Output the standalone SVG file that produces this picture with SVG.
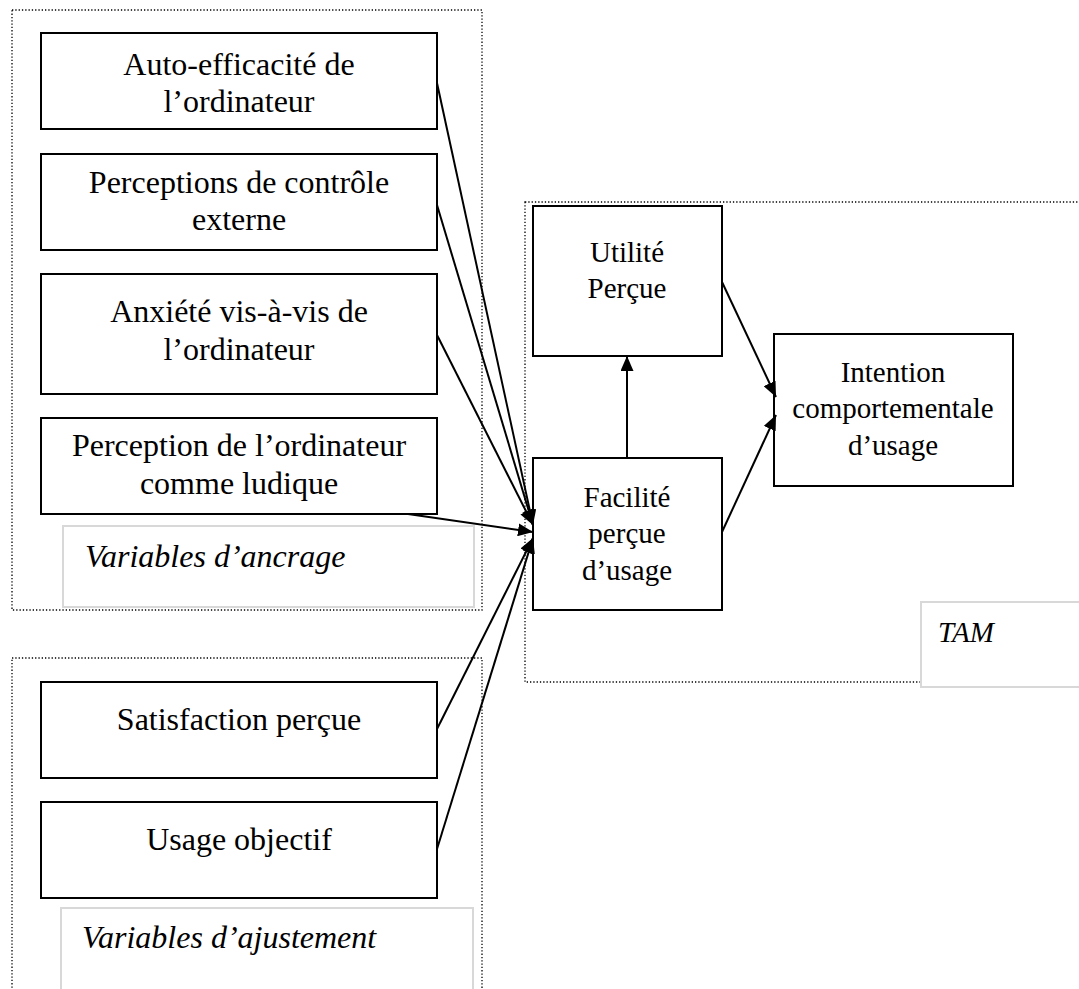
<svg xmlns="http://www.w3.org/2000/svg" width="1079" height="989" viewBox="0 0 1079 989">
<style>
.node{fill:#fff;stroke:#000;stroke-width:2}
.grp{fill:none;stroke:#000;stroke-width:1.3;stroke-dasharray:1.3 2}
.lbl{fill:#fff;stroke:#d8d8d8;stroke-width:2}
.t{font-family:"Liberation Serif","Times New Roman",serif;fill:#000;text-anchor:middle}
.tl{font-size:32px}
.tr{font-size:29px}
.it{font-family:"Liberation Serif","Times New Roman",serif;font-style:italic;fill:#000}
.c{stroke:#000;stroke-width:2;fill:none;marker-end:url(#ah)}
</style>
<defs>
<marker id="ah" markerWidth="15" markerHeight="13" refX="15" refY="6.5" orient="auto" markerUnits="userSpaceOnUse">
<path d="M0,0 L15,6.5 L0,13 Z" fill="#000"/>
</marker>
</defs>
<rect width="1079" height="989" fill="#fff"/>
<g id="group-ancrage">
<rect class="grp" x="12" y="10" width="470" height="600"/>
<rect class="lbl" x="63" y="526" width="411" height="81"/>
<text class="it" x="85" y="567" font-size="32">Variables d’ancrage</text>
</g>
<g id="group-ajustement">
<rect class="grp" x="12" y="658" width="470" height="340"/>
<rect class="lbl" x="61" y="908" width="412" height="85"/>
<text class="it" x="82" y="948" font-size="32">Variables d’ajustement</text>
</g>
<g id="group-tam">
<rect class="grp" x="525" y="202" width="570" height="480"/>
<rect class="lbl" x="921" y="602" width="170" height="85"/>
<text class="it" x="938" y="642" font-size="29">TAM</text>
</g>
<g id="n1"><rect class="node" x="41" y="33" width="396" height="96"/>
<text class="t tl" x="239" y="75">Auto-efficacité de</text><text class="t tl" x="239" y="112">l’ordinateur</text></g>
<g id="n2"><rect class="node" x="41" y="154" width="396" height="96"/>
<text class="t tl" x="239" y="193">Perceptions de contrôle</text><text class="t tl" x="239" y="230">externe</text></g>
<g id="n3"><rect class="node" x="41" y="274" width="396" height="120"/>
<text class="t tl" x="239" y="322">Anxiété vis-à-vis de</text><text class="t tl" x="239" y="360">l’ordinateur</text></g>
<g id="n4"><rect class="node" x="41" y="418" width="396" height="96"/>
<text class="t tl" x="239" y="456">Perception de l’ordinateur</text><text class="t tl" x="239" y="494">comme ludique</text></g>
<g id="n5"><rect class="node" x="41" y="682" width="396" height="96"/>
<text class="t tl" x="239" y="730">Satisfaction perçue</text></g>
<g id="n6"><rect class="node" x="41" y="802" width="396" height="96"/>
<text class="t tl" x="239" y="850">Usage objectif</text></g>
<g id="utilite"><rect class="node" x="533" y="206" width="189" height="150"/>
<text class="t tr" x="627" y="262">Utilité</text><text class="t tr" x="627" y="298">Perçue</text></g>
<g id="facilite"><rect class="node" x="533" y="458" width="189" height="152"/>
<text class="t tr" x="627" y="507">Facilité</text><text class="t tr" x="627" y="543">perçue</text><text class="t tr" x="627" y="580">d’usage</text></g>
<g id="intention"><rect class="node" x="774" y="334" width="239" height="152"/>
<text class="t tr" x="893" y="382">Intention</text><text class="t tr" x="893" y="418">comportementale</text><text class="t tr" x="893" y="455">d’usage</text></g>
<g id="connectors">
<line class="c" x1="437" y1="83" x2="533" y2="525"/>
<line class="c" x1="437" y1="205" x2="533" y2="525"/>
<line class="c" x1="437" y1="335" x2="533" y2="525"/>
<line class="c" x1="408" y1="514" x2="533" y2="532"/>
<line class="c" x1="437" y1="729" x2="533" y2="538"/>
<line class="c" x1="437" y1="849" x2="533" y2="538"/>
<line class="c" x1="627" y1="458" x2="627" y2="356"/>
<line class="c" x1="722" y1="282" x2="776" y2="397"/>
<line class="c" x1="722" y1="532" x2="776" y2="415"/>
</g>
</svg>
